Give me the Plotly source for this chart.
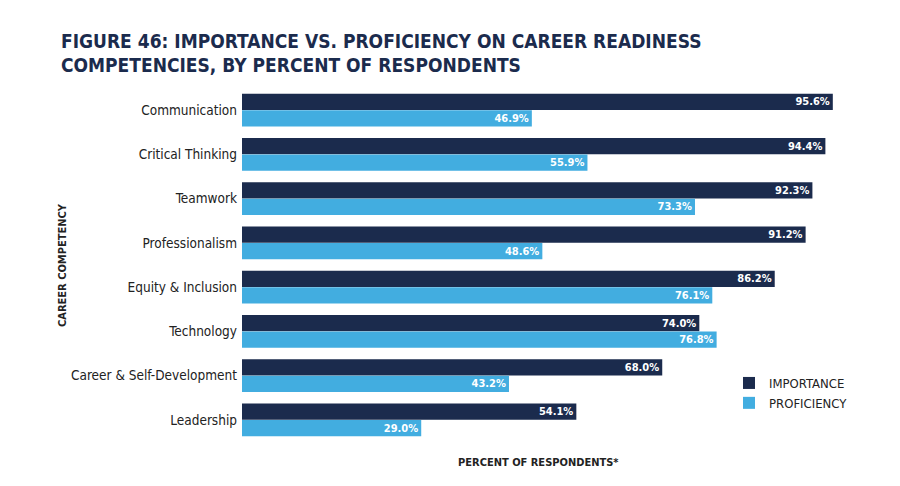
import plotly.graph_objects as go

categories = ["Communication", "Critical Thinking", "Teamwork", "Professionalism",
              "Equity & Inclusion", "Technology", "Career & Self-Development", "Leadership"]
importance = [95.6, 94.4, 92.3, 91.2, 86.2, 74.0, 68.0, 54.1]
proficiency = [46.9, 55.9, 73.3, 48.6, 76.1, 76.8, 43.2, 29.0]

navy = "#1b2b4d"
blue = "#42ade0"
FONT = "DejaVu Sans Condensed"

PL, PR, PT, PB = 242, 860, 88, 442
W, H = 900, 486

def py(ypx):
    return (PB - ypx) / (PB - PT)

def px(xpx):
    return (xpx - PL) / (PR - PL)

fig = go.Figure()
fig.add_trace(go.Bar(
    y=categories, x=importance, orientation="h", name="IMPORTANCE",
    marker=dict(color=navy, line=dict(width=0)),
    text=[f"<b>{v:.1f}%</b>" for v in importance], textposition="inside",
    insidetextanchor="end",
    textfont=dict(color="white", size=11, family=FONT),
))
fig.add_trace(go.Bar(
    y=categories, x=proficiency, orientation="h", name="PROFICIENCY",
    marker=dict(color=blue, line=dict(width=0)),
    text=[f"<b>{v:.1f}%</b>" for v in proficiency], textposition="inside",
    insidetextanchor="end",
    textfont=dict(color="white", size=11, family=FONT),
))

fig.update_layout(
    width=W, height=H,
    paper_bgcolor="white", plot_bgcolor="white",
    margin=dict(l=PL, r=W - PR, t=PT, b=H - PB, autoexpand=False),
    barmode="group", bargap=0.25, bargroupgap=0.03,
    uniformtext=dict(minsize=11, mode="show"),
    showlegend=True,
    legend=dict(x=px(729), y=py(368), xanchor="left", yanchor="top",
                font=dict(family=FONT, size=13, color="#222222"),
                itemwidth=30, tracegroupgap=0, bgcolor="rgba(0,0,0,0)"),
    font=dict(family=FONT, color="#222222"),
)
fig.update_xaxes(range=[0, 100], showgrid=False, showticklabels=False, zeroline=False,
                 showline=False, ticks="")
fig.update_yaxes(autorange="reversed", showgrid=False, showline=False, ticks="",
                 tickfont=dict(family=FONT, size=13.5, color="#222222"),
                 ticklabelstandoff=4)

fig.add_annotation(text="<b>FIGURE 46: IMPORTANCE VS. PROFICIENCY ON CAREER READINESS</b>",
                   xref="paper", yref="paper", x=px(60), y=py(53), xanchor="left",
                   yanchor="bottom", showarrow=False, borderpad=0,
                   font=dict(family=FONT, size=19, color=navy))
fig.add_annotation(text="<b>COMPETENCIES, BY PERCENT OF RESPONDENTS</b>",
                   xref="paper", yref="paper", x=px(60), y=py(53), xanchor="left",
                   yanchor="top", showarrow=False, borderpad=0,
                   font=dict(family=FONT, size=19, color=navy))
fig.add_annotation(text="<b>PERCENT OF RESPONDENTS*</b>", xref="paper", yref="paper",
                   x=px(538), y=py(462), xanchor="center", yanchor="middle", showarrow=False,
                   font=dict(family=FONT, size=11, color="#222222"))
fig.add_annotation(text="<b>CAREER COMPETENCY</b>", xref="paper", yref="paper",
                   x=px(62), y=0.5, xanchor="center", yanchor="middle", textangle=-90,
                   showarrow=False,
                   font=dict(family=FONT, size=11, color="#222222"))

fig.write_html("out.html")
